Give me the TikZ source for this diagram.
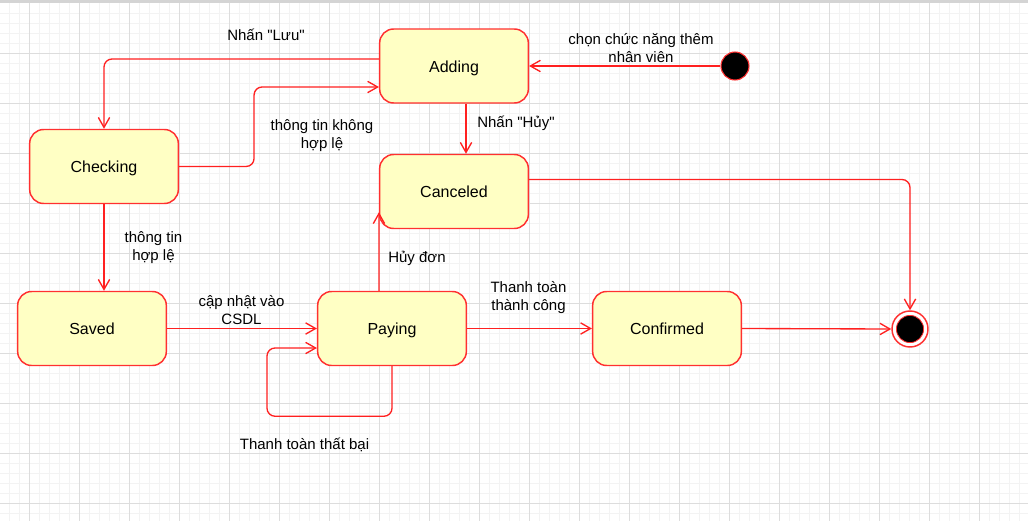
\documentclass[tikz,border=0pt]{standalone}
\usepackage{fontspec}
\setmainfont{Liberation Sans}[Ligatures=TeXOff]
\usetikzlibrary{arrows.meta,calc}
\definecolor{boxfill}{HTML}{FFFFC4}
\definecolor{boxred}{HTML}{FF3030}
\definecolor{linered}{HTML}{FF2020}
\definecolor{gridmin}{HTML}{F3F3F3}
\definecolor{gridmaj}{HTML}{DDDDDD}
\definecolor{topbar}{HTML}{D4D4D4}
\begin{document}
\begin{tikzpicture}[x=0.75pt,y=-0.75pt,
  state/.style={draw=boxred, fill=boxfill, line width=1.1pt, rounded corners=10.5pt,
    minimum width=111.5pt, minimum height=55.5pt, inner sep=0pt,
    text height=12pt, text depth=2.5pt,
    font=\fontsize{12}{14}\selectfont},
  lbl/.style={inner sep=0pt, align=center, font=\fontsize{11.25}{13.5}\selectfont},
  tr/.style={draw=linered, line width=1pt, rounded corners=6pt,
    -{Straight Barb[length=7.5pt,width=8.5pt]}},
  initstate/.style={circle, fill=black, draw=boxred, line width=0.8pt, minimum size=21pt, inner sep=0pt},
  finalstate/.style={circle, fill=white, draw=boxred, line width=1.1pt, minimum size=27pt, inner sep=0pt},
  gmin/.style={draw=gridmin, line width=0.75pt},
  gmaj/.style={draw=gridmaj, line width=0.75pt}]
\useasboundingbox (0,0) rectangle (1028,521);
\fill[white] (0,0) rectangle (1028,521);
% grid
\foreach \x in {9,19,...,1019} \draw[gmin] (\x,0) -- (\x,521);
\foreach \y in {13,23,...,513} \draw[gmin] (0,\y) -- (1028,\y);
\foreach \x in {29,79,...,1019} \draw[gmaj] (\x,0) -- (\x,521);
\foreach \y in {53,103,...,503} \draw[gmaj] (0,\y) -- (1028,\y);
\fill[topbar] (0,0) rectangle (1028,3);

% states
\node[state] (adding) at (454,66) {Adding};
\node[state] (checking) at (104,166.5) {Checking};
\node[state] (canceled) at (454,191.5) {Canceled};
\node[state] (saved) at (92,328.5) {Saved};
\node[state] (paying) at (392,328.5) {Paying};
\node[state] (confirmed) at (667,328.5) {Confirmed};
\node[initstate] (init) at (735,66) {};
\node[finalstate] (final) at (910,329) {};
\fill[black, draw=boxred, line width=0.6pt] (final.center) circle[radius=10.2pt];

% transitions
\draw[tr] (init.west) -- (adding.east);
\draw[tr] ($(adding.west)+(0,-7)$) -| (checking.north);
\draw[tr] (checking.east) -- ++(75,0) |- ($(adding.west)+(0,21)$);
\draw[tr] ($(adding.south)+(12,0)$) -- ($(canceled.north)+(12,0)$);
\draw[tr] (checking.south) -- (checking.south |- saved.north);
\draw[tr] (saved.east) -- (paying.west);
\draw[tr] (paying.south) -- ++(0,50) -- ++(-125,0) |- ($(paying.west)+(0,19.5)$);
\draw[tr] ($(paying.north)+(-13,0)$) -- ($(canceled.south west)+(0,-17)$);
\draw[tr] (paying.east) -- (confirmed.west);
\draw[tr] (confirmed.east) -- (final.west);
\draw[tr] ($(canceled.east)+(0,-12)$) -| (final.north);

% labels
\node[lbl] (lLuu) at (266,35) {Nhấn "Lưu"};
\node[lbl] (lKhong) at (322,135.5) {thông tin không\\hợp lệ};
\node[lbl] (lHuy) at (516,123) {Nhấn "Hủy"};
\node[lbl] (lHople) at (153.5,248) {thông tin\\hợp lệ};
\node[lbl] (lCSDL) at (241.5,310) {cập nhật vào\\CSDL};
\node[lbl] (lHuydon) at (417,258) {Hủy đơn};
\node[lbl] (lThanhcong) at (528.5,298) {Thanh toàn\\thành công};
\node[lbl] (lThatbai) at (304.5,444.5) {Thanh toàn thất bại};
\node[lbl] (lChon) at (641,48) {chọn chức năng thêm\\nhân viên};
\end{tikzpicture}
\end{document}
